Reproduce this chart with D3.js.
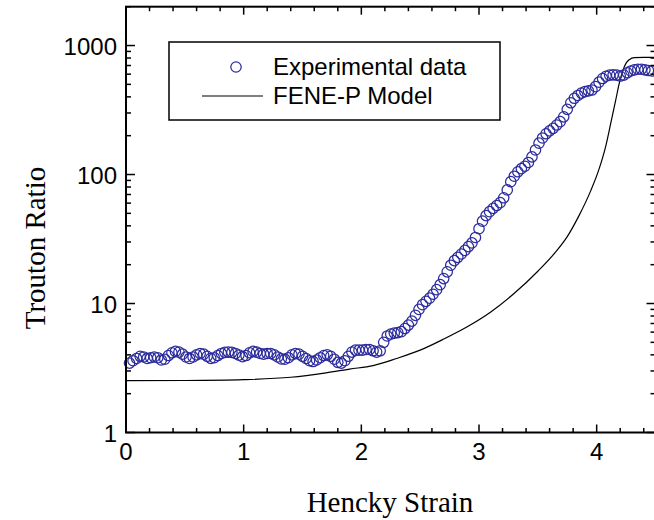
<!DOCTYPE html>
<html>
<head>
<meta charset="utf-8">
<script src="https://cdn.jsdelivr.net/npm/d3@7"></script>
<style>
  body { margin: 0; background: #fff; }
  svg { display: block; }
</style>
</head>
<body>
<div id="chart"></div>
<script>
// experimental data, [Hencky strain, Trouton ratio]
const experimental = [
  [0.03,3.45],[0.06,3.6],[0.09,3.75],[0.12,3.9],[0.15,3.85],[0.18,3.75],[0.21,3.8],[0.24,3.85],
  [0.27,3.8],[0.30,3.65],[0.33,3.7],[0.36,3.95],[0.39,4.15],[0.42,4.25],[0.45,4.2],[0.48,4.05],
  [0.51,3.85],[0.54,3.75],[0.57,3.85],[0.60,4.0],[0.63,4.1],[0.66,4.05],[0.69,3.9],[0.72,3.76],
  [0.75,3.8],[0.78,3.95],[0.81,4.1],[0.84,4.18],[0.87,4.2],[0.90,4.18],[0.93,4.1],[0.96,3.98],
  [0.99,3.87],[1.02,3.95],[1.05,4.15],[1.08,4.25],[1.11,4.2],[1.14,4.1],[1.17,4.05],[1.20,4.1],
  [1.23,4.1],[1.26,4.0],[1.29,3.85],[1.32,3.72],[1.35,3.7],[1.38,3.8],[1.41,4.0],[1.44,4.1],
  [1.47,4.05],[1.50,3.9],[1.53,3.75],[1.56,3.6],[1.59,3.55],[1.62,3.65],[1.65,3.8],[1.68,3.95],
  [1.71,4.0],[1.74,3.9],[1.77,3.7],[1.80,3.5],[1.83,3.45],[1.86,3.6],[1.89,3.9],[1.92,4.2],
  [1.95,4.35],[1.98,4.35],[2.01,4.35],[2.04,4.4],[2.07,4.4],[2.10,4.3],[2.13,4.2],[2.16,4.3],
  [2.19,5.0],[2.22,5.6],[2.25,5.8],[2.28,5.9],[2.31,5.95],[2.34,6.05],[2.37,6.4],[2.40,6.8],
  [2.43,7.3],[2.46,8.1],[2.49,9.0],[2.52,9.8],[2.55,10.4],[2.58,11.0],[2.61,11.8],[2.64,12.8],
  [2.67,14.0],[2.70,15.6],[2.73,17.6],[2.76,19.8],[2.79,21.5],[2.82,22.8],[2.85,24.2],[2.88,25.8],
  [2.91,27.6],[2.94,29.5],[2.97,32.5],[3.00,38],[3.03,43.5],[3.06,48],[3.09,51.5],[3.12,54.7],
  [3.15,57.5],[3.18,60.5],[3.21,66],[3.24,76],[3.27,88],[3.30,97],[3.33,105],[3.36,111],
  [3.39,116],[3.42,124],[3.45,137],[3.48,155],[3.51,175],[3.54,192],[3.57,207],[3.60,218],
  [3.63,228],[3.66,242],[3.69,257],[3.72,280],[3.75,320],[3.78,360],[3.81,390],[3.84,410],
  [3.87,428],[3.90,439],[3.93,445],[3.96,452],[3.99,480],[4.02,520],[4.05,555],[4.08,578],
  [4.11,590],[4.14,593],[4.17,590],[4.20,580],[4.23,590],[4.26,615],[4.29,635],[4.32,648],
  [4.35,655],[4.38,655],[4.41,648],[4.44,640],[4.47,635]
];

// FENE-P model curve
const feneP = [
  [0,2.52],[0.5,2.53],[1.0,2.57],[1.4,2.68],[1.7,2.9],[1.9,3.1],[2.1,3.3],[2.3,3.75],
  [2.5,4.35],[2.7,5.3],[2.9,6.6],[3.1,8.6],[3.3,12.0],[3.5,17.8],[3.65,25],[3.75,33],
  [3.85,48],[3.95,75],[4.02,110],[4.08,170],[4.12,250],[4.16,370],[4.19,500],[4.22,630],
  [4.25,730],[4.28,780],[4.32,805],[4.4,810],[4.5,810]
];

const xTicks = [0, 1, 2, 3, 4];
const yTicks = [1, 10, 100, 1000];
const legendLabels = ["Experimental data", "FENE-P Model"];

const width = 654, height = 520;
const mLeft = 126, mRight = 655.5, mTop = 6.7, mBottom = 432.5;
const dotColor = "#2b2b9c";

const svg = d3.select("#chart").append("svg")
    .attr("width", width)
    .attr("height", height);

const x = d3.scaleLinear().domain([0, 4.5]).range([mLeft, mRight]);
const y = d3.scaleLog().domain([1, 2000]).range([mBottom, mTop]);

// minor ticks
const xMinor = d3.range(0, 4.51, 0.2).filter(v => Math.abs(v - Math.round(v)) > 1e-6);
const yMinor = [];
[1, 10, 100, 1000].forEach(d => {
    for (let k = 2; k <= 9; k++) if (d * k <= 2000) yMinor.push(d * k);
});

const font = "'Liberation Sans', Arial, sans-serif";
const serif = "'Liberation Serif', 'Times New Roman', serif";

// data
const plot = svg.append("g");

plot.append("path")
    .datum(feneP)
    .attr("fill", "none")
    .attr("stroke", "#000")
    .attr("stroke-width", 1.2)
    .attr("d", d3.line().x(d => x(d[0])).y(d => y(d[1])).curve(d3.curveMonotoneX));

plot.selectAll("circle.exp")
    .data(experimental)
    .enter().append("circle")
    .attr("class", "exp")
    .attr("cx", d => x(d[0]))
    .attr("cy", d => y(d[1]))
    .attr("r", 5.2)
    .attr("fill", "none")
    .attr("stroke", dotColor)
    .attr("stroke-width", 1.25);

// frame
svg.append("rect")
    .attr("x", mLeft).attr("y", mTop)
    .attr("width", mRight - mLeft).attr("height", mBottom - mTop)
    .attr("fill", "none")
    .attr("stroke", "#000")
    .attr("stroke-width", 2);

// axes, ticks pointing inward
const axes = svg.append("g").attr("stroke", "#000").attr("stroke-width", 1.5);

function tickSet(vals, len, pos, side) {
    const horiz = side === "bottom" || side === "top";
    axes.selectAll(null)
        .data(vals)
        .enter().append("line")
        .attr("x1", d => horiz ? pos(d) : (side === "left" ? mLeft : mRight))
        .attr("x2", d => horiz ? pos(d) : (side === "left" ? mLeft + len : mRight - len))
        .attr("y1", d => horiz ? (side === "bottom" ? mBottom : mTop) : pos(d))
        .attr("y2", d => horiz ? (side === "bottom" ? mBottom - len : mTop + len) : pos(d));
}
tickSet(xTicks, 8, x, "bottom");
tickSet(xMinor, 4.5, x, "bottom");
tickSet(xTicks, 8, x, "top");
tickSet(xMinor, 4.5, x, "top");
tickSet(yTicks, 9, y, "left");
tickSet(yMinor, 5, y, "left");
tickSet(yTicks, 9, y, "right");
tickSet(yMinor, 5, y, "right");

// tick labels
svg.append("g").selectAll("text")
    .data(xTicks)
    .enter().append("text")
    .attr("x", d => x(d))
    .attr("y", mBottom + 27)
    .attr("text-anchor", "middle")
    .attr("font-family", font)
    .attr("font-size", 24)
    .text(d => d);

svg.append("g").selectAll("text")
    .data(yTicks)
    .enter().append("text")
    .attr("x", mLeft - 9)
    .attr("y", d => y(d) + 9)
    .attr("text-anchor", "end")
    .attr("font-family", font)
    .attr("font-size", 24)
    .text(d => d);

// axis titles
svg.append("text")
    .attr("x", 390)
    .attr("y", 512)
    .attr("text-anchor", "middle")
    .attr("font-family", serif)
    .attr("font-size", 29)
    .text("Hencky Strain");

svg.append("text")
    .attr("transform", "translate(45,248) rotate(-90)")
    .attr("text-anchor", "middle")
    .attr("font-family", serif)
    .attr("font-size", 29)
    .text("Trouton Ratio");

// legend
const legend = svg.append("g");
legend.append("rect")
    .attr("x", 169).attr("y", 42)
    .attr("width", 331).attr("height", 78)
    .attr("fill", "#fff")
    .attr("stroke", "#000")
    .attr("stroke-width", 1.5);
legend.append("circle")
    .attr("cx", 236).attr("cy", 67).attr("r", 5.2)
    .attr("fill", "none").attr("stroke", dotColor).attr("stroke-width", 1.25);
legend.append("line")
    .attr("x1", 202).attr("x2", 263).attr("y1", 96).attr("y2", 96)
    .attr("stroke", "#000").attr("stroke-width", 1.2);
legend.selectAll("text")
    .data(legendLabels)
    .enter().append("text")
    .attr("x", 273)
    .attr("y", (d, i) => 75 + i * 29)
    .attr("font-family", font)
    .attr("font-size", 24)
    .text(d => d);
</script>
</body>
</html>
